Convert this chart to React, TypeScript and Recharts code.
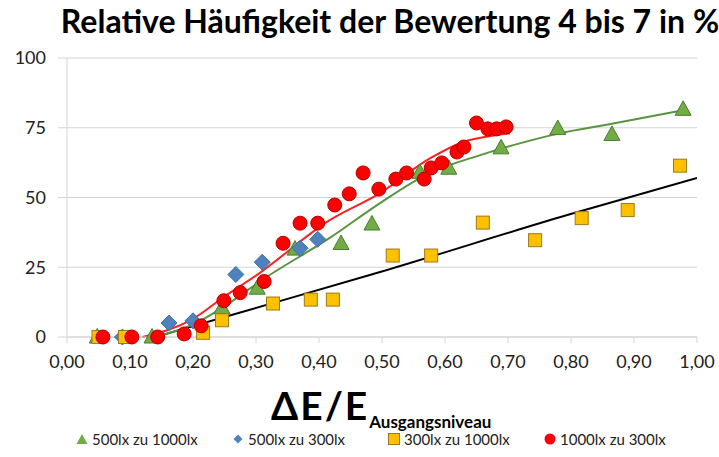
import React from "react";
import {
  ComposedChart,
  Scatter,
  Line,
  XAxis,
  YAxis,
  CartesianGrid,
  Legend,
} from "recharts";

// Achsen
const xTicks = [0, 0.1, 0.2, 0.3, 0.4, 0.5, 0.6, 0.7, 0.8, 0.9, 1.0];
const yTicks = [0, 25, 50, 75, 100];

// Legendenreihenfolge wie im Original
const legendOrder = ["500lx zu 1000lx", "500lx zu 300lx", "300lx zu 1000lx", "1000lx zu 300lx"];

// Messpunkte
const green500to1000 = [
  { x: 0.048, y: 0 }, { x: 0.135, y: 0 }, { x: 0.246, y: 10.5 }, { x: 0.302, y: 17.5 },
  { x: 0.362, y: 31.5 }, { x: 0.435, y: 33.5 }, { x: 0.484, y: 40.5 }, { x: 0.56, y: 59 },
  { x: 0.606, y: 60.5 }, { x: 0.689, y: 67.8 }, { x: 0.779, y: 74.7 }, { x: 0.865, y: 72.6 },
  { x: 0.978, y: 81.6 },
];
const blue500to300 = [
  { x: 0.088, y: 0 }, { x: 0.162, y: 5 }, { x: 0.2, y: 5.8 }, { x: 0.268, y: 22.4 },
  { x: 0.31, y: 26.8 }, { x: 0.37, y: 31.8 }, { x: 0.398, y: 35 },
];
const yellow300to1000 = [
  { x: 0.05, y: 0 }, { x: 0.092, y: 0 }, { x: 0.216, y: 1.5 }, { x: 0.246, y: 6 },
  { x: 0.327, y: 12 }, { x: 0.387, y: 13.4 }, { x: 0.422, y: 13.4 }, { x: 0.517, y: 29.2 },
  { x: 0.578, y: 29.2 }, { x: 0.66, y: 41 }, { x: 0.743, y: 34.7 }, { x: 0.817, y: 42.6 },
  { x: 0.89, y: 45.5 }, { x: 0.973, y: 61.4 },
];
const red1000to300 = [
  { x: 0.057, y: 0 }, { x: 0.103, y: 0 }, { x: 0.144, y: 0 }, { x: 0.186, y: 1.1 },
  { x: 0.213, y: 4 }, { x: 0.249, y: 13 }, { x: 0.275, y: 15.9 }, { x: 0.313, y: 19.9 },
  { x: 0.343, y: 33.6 }, { x: 0.37, y: 40.8 }, { x: 0.398, y: 40.8 }, { x: 0.425, y: 47.3 },
  { x: 0.448, y: 51.3 }, { x: 0.47, y: 58.8 }, { x: 0.495, y: 53 }, { x: 0.522, y: 56.6 },
  { x: 0.539, y: 58.8 }, { x: 0.567, y: 56.6 }, { x: 0.578, y: 60.6 }, { x: 0.595, y: 62.4 },
  { x: 0.619, y: 66.3 }, { x: 0.63, y: 68.1 }, { x: 0.65, y: 76.7 }, { x: 0.668, y: 74.6 },
  { x: 0.682, y: 74.6 }, { x: 0.697, y: 75.3 },
];

// Trendlinien
const trendGreen = [
  { x: 0.14, y: 0 }, { x: 0.2, y: 4.5 }, { x: 0.25, y: 11 }, { x: 0.31, y: 20.5 },
  { x: 0.417, y: 35.5 }, { x: 0.497, y: 48 }, { x: 0.576, y: 58.8 }, { x: 0.656, y: 65.2 },
  { x: 0.72, y: 69.5 }, { x: 0.78, y: 72.9 }, { x: 0.867, y: 76.5 }, { x: 0.978, y: 81.3 },
];
const trendRed = [
  { x: 0.12, y: 0 }, { x: 0.2, y: 6.5 }, { x: 0.25, y: 14.5 }, { x: 0.3, y: 22 },
  { x: 0.417, y: 41.9 }, { x: 0.497, y: 51.6 }, { x: 0.576, y: 64 }, { x: 0.629, y: 69.9 },
  { x: 0.683, y: 72.4 }, { x: 0.703, y: 73 },
];
const trendBlack = [
  { x: 0.14, y: 0 }, { x: 0.275, y: 8.8 }, { x: 0.497, y: 23.3 }, { x: 0.794, y: 43.7 },
  { x: 1.0, y: 57 },
];

const FONT = "Lato, 'Open Sans', sans-serif";

const TriangleDot = ({ cx, cy }: any) => (
  <polygon
    points={`${cx},${cy - 8.5} ${cx + 8},${cy + 6} ${cx - 8},${cy + 6}`}
    fill="#70ad47"
    stroke="#4a7a2c"
    strokeWidth={1}
  />
);
const DiamondDot = ({ cx, cy }: any) => (
  <polygon
    points={`${cx},${cy - 8} ${cx + 8},${cy} ${cx},${cy + 8} ${cx - 8},${cy}`}
    fill="#4f81bd"
    stroke="#41719c"
    strokeWidth={1}
  />
);
const SquareDot = ({ cx, cy }: any) => (
  <rect x={cx - 6.5} y={cy - 6.5} width={13} height={13} fill="#ffc000" stroke="#9c7a1c" strokeWidth={1} />
);
const CircleDot = ({ cx, cy }: any) => (
  <circle cx={cx} cy={cy} r={7} fill="#ff0000" stroke="#b00000" strokeWidth={1} />
);

const legendIcon = (type: string) => {
  if (type === "triangle")
    return <polygon points="6,1 11.5,11 0.5,11" fill="#70ad47" />;
  if (type === "diamond")
    return <polygon points="6,1.5 10.5,6 6,10.5 1.5,6" fill="#4f81bd" />;
  if (type === "square")
    return <rect x={0.5} y={0.5} width={11} height={11} fill="#ffc000" stroke="#9c7a1c" />;
  return <circle cx={6} cy={6} r={5.5} fill="#ff0000" />;
};

const renderLegend = ({ payload }: any) => {
  const items = (payload || [])
    .filter((e: any) => legendOrder.includes(e.value))
    .sort((a: any, b: any) => legendOrder.indexOf(a.value) - legendOrder.indexOf(b.value));
  return (
    <div style={{ display: "flex", height: 24, paddingLeft: 76, fontFamily: FONT, fontSize: 15, color: "#222" }}>
      {items.map((entry: any) => (
        <div key={entry.value} style={{ width: 156, flexShrink: 0, display: "flex", alignItems: "center", whiteSpace: "nowrap" }}>
          <svg width={12} height={12} style={{ marginRight: 4 }}>
            {legendIcon(entry.type)}
          </svg>
          <span>{entry.value}</span>
        </div>
      ))}
    </div>
  );
};

const fmt = (v: number) => v.toFixed(2).replace(".", ",");

export default function App() {
  return (
    <div style={{ position: "relative", width: 719, height: 457, background: "#fff", fontFamily: FONT }}>
      <style>{"body{margin:0}"}</style>
      <div
        style={{
          position: "absolute",
          top: 1,
          left: 58,
          width: 664,
          textAlign: "center",
          fontSize: 32,
          lineHeight: "40px",
          fontWeight: 700,
          color: "#000",
          whiteSpace: "nowrap",
        }}
      >
        Relative Häufigkeit der Bewertung 4 bis 7 in %
      </div>
      <div
        style={{
          position: "absolute",
          top: 383,
          left: 271,
          fontWeight: 700,
          color: "#000",
          whiteSpace: "nowrap",
          lineHeight: "44px",
        }}
      >
        <span style={{ fontSize: 39, letterSpacing: 2 }}>ΔE/E</span>
        <span style={{ fontSize: 17, position: "relative", top: 8 }}>Ausgangsniveau</span>
      </div>
      <ComposedChart
        width={719}
        height={457}
        margin={{ top: 58, right: 22, bottom: 66, left: 0 }}
        style={{ position: "absolute", top: 0, left: 0 }}
      >
        <CartesianGrid horizontal vertical={false} stroke="#d4d4d4" />
        <XAxis
          type="number"
          dataKey="x"
          domain={[0, 1]}
          ticks={xTicks}
          tickFormatter={fmt}
          height={30}
          stroke="#d4d4d4"
          tickSize={6}
          tickMargin={12}
          tick={{ fill: "#222", fontSize: 18, fontFamily: FONT }}
          allowDataOverflow
        />
        <YAxis
          type="number"
          domain={[0, 100]}
          ticks={yTicks}
          width={67}
          stroke="#d4d4d4"
          tickSize={9}
          tickMargin={12}
          tick={{ fill: "#222", fontSize: 18, fontFamily: FONT }}
        />
        <Line name="trendBlack" data={trendBlack} dataKey="y" type="monotone" stroke="#000" strokeWidth={2} dot={false} legendType="none" isAnimationActive={false} />
        <Line name="trendGreen" data={trendGreen} dataKey="y" type="monotone" stroke="#5a9440" strokeWidth={2} dot={false} legendType="none" isAnimationActive={false} />
        <Line name="trendRed" data={trendRed} dataKey="y" type="monotone" stroke="#ff2020" strokeWidth={2} dot={false} legendType="none" isAnimationActive={false} />
        <Scatter name="500lx zu 1000lx" data={green500to1000} dataKey="y" legendType="triangle" fill="#70ad47" shape={TriangleDot} isAnimationActive={false} />
        <Scatter name="500lx zu 300lx" data={blue500to300} dataKey="y" legendType="diamond" fill="#4f81bd" shape={DiamondDot} isAnimationActive={false} />
        <Scatter name="300lx zu 1000lx" data={yellow300to1000} dataKey="y" legendType="square" fill="#ffc000" shape={SquareDot} isAnimationActive={false} />
        <Scatter name="1000lx zu 300lx" data={red1000to300} dataKey="y" legendType="circle" fill="#ff0000" shape={CircleDot} isAnimationActive={false} />
        <Legend
          verticalAlign="bottom"
          align="left"
          content={renderLegend}
          wrapperStyle={{ left: 0, bottom: 6, width: 719 }}
        />
      </ComposedChart>
    </div>
  );
}
